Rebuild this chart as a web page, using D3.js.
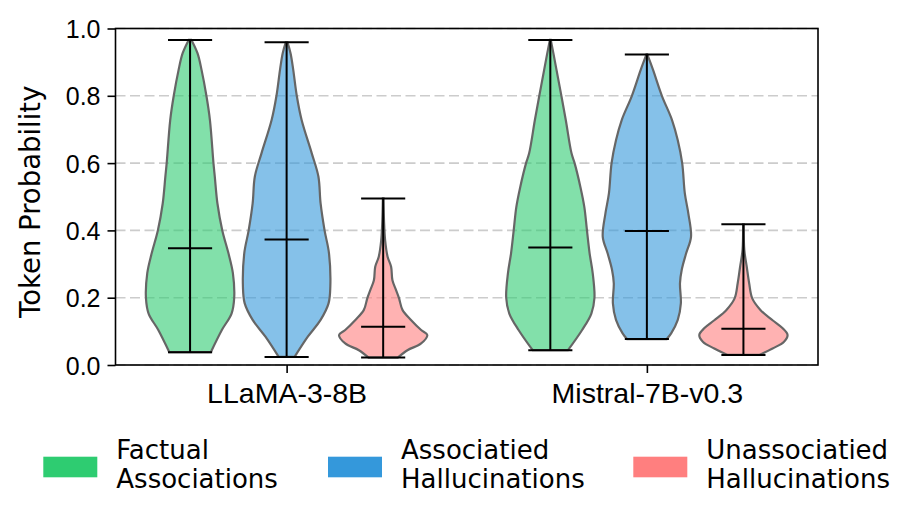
<!DOCTYPE html>
<html>
<head>
<meta charset="utf-8">
<script src="https://cdn.jsdelivr.net/npm/d3@7"></script>
<style>
  body { margin: 0; background: #fff; }
  svg { font-family: "DejaVu Sans", sans-serif; }
</style>
</head>
<body>
<div id="chart"></div>
<script>
// chart values

const models = ["LLaMA-3-8B", "Mistral-7B-v0.3"];
const groups = ["Factual Associations", "Associatied Hallucinations", "Unassociatied Hallucinations"];
const legendLines = [["Factual", "Associations"], ["Associatied", "Hallucinations"], ["Unassociatied", "Hallucinations"]];
const colors = ["#2ecc71", "#3498db", "#ff7f7f"];
const yTicks = [0.0, 0.2, 0.4, 0.6, 0.8, 1.0];

// min / mean / max per model, per group
const llamaMins = [0.038, 0.024, 0.022];
const llamaMeans = [0.347, 0.373, 0.114];
const llamaMaxs = [0.966, 0.959, 0.495];
const mistralMins = [0.044, 0.077, 0.030];
const mistralMeans = [0.349, 0.398, 0.108];
const mistralMaxs = [0.966, 0.923, 0.418];

// density profiles [value, relative density]
const llamaFactual = [[0.038, 0.47], [0.104, 0.72], [0.153, 0.94], [0.200, 1.0], [0.273, 0.97], [0.332, 0.87],
  [0.400, 0.73], [0.480, 0.62], [0.560, 0.56], [0.600, 0.53], [0.728, 0.45], [0.800, 0.37], [0.877, 0.26],
  [0.926, 0.17], [0.966, 0.03]];
const llamaAssoc = [[0.024, 0.18], [0.084, 0.48], [0.134, 0.77], [0.183, 0.95], [0.233, 0.99], [0.332, 0.96],
  [0.400, 0.86], [0.480, 0.77], [0.560, 0.72], [0.629, 0.57], [0.728, 0.34], [0.800, 0.23], [0.877, 0.15],
  [0.926, 0.09], [0.959, 0.02]];
const llamaUnassoc = [[0.022, 0.33], [0.044, 0.55], [0.064, 0.86], [0.089, 1.0], [0.104, 0.86], [0.134, 0.63],
  [0.163, 0.44], [0.198, 0.36], [0.223, 0.29], [0.252, 0.21], [0.292, 0.18], [0.322, 0.10], [0.370, 0.045],
  [0.426, 0.02], [0.495, 0.007]];
const mistralFactual = [[0.044, 0.40], [0.104, 0.72], [0.153, 0.93], [0.200, 1.0], [0.273, 0.96], [0.332, 0.89],
  [0.400, 0.83], [0.470, 0.77], [0.530, 0.68], [0.600, 0.55], [0.629, 0.48], [0.728, 0.35], [0.800, 0.25],
  [0.877, 0.14], [0.926, 0.07], [0.966, 0.01]];
const mistralAssoc = [[0.077, 0.45], [0.094, 0.55], [0.134, 0.70], [0.183, 0.77], [0.243, 0.75], [0.283, 0.79],
  [0.332, 0.89], [0.381, 1.0], [0.450, 0.94], [0.510, 0.86], [0.600, 0.80], [0.668, 0.70], [0.728, 0.57],
  [0.800, 0.34], [0.877, 0.14], [0.923, 0.01]];
const mistralUnassoc = [[0.030, 0.36], [0.049, 0.66], [0.069, 0.92], [0.089, 1.0], [0.109, 0.89], [0.133, 0.66],
  [0.163, 0.39], [0.198, 0.20], [0.243, 0.13], [0.292, 0.075], [0.342, 0.02], [0.418, 0.007]];

const violins = [
  { model: 0, group: 0, profile: llamaFactual, min: llamaMins[0], mean: llamaMeans[0], max: llamaMaxs[0] },
  { model: 0, group: 1, profile: llamaAssoc, min: llamaMins[1], mean: llamaMeans[1], max: llamaMaxs[1] },
  { model: 0, group: 2, profile: llamaUnassoc, min: llamaMins[2], mean: llamaMeans[2], max: llamaMaxs[2] },
  { model: 1, group: 0, profile: mistralFactual, min: mistralMins[0], mean: mistralMeans[0], max: mistralMaxs[0] },
  { model: 1, group: 1, profile: mistralAssoc, min: mistralMins[1], mean: mistralMeans[1], max: mistralMaxs[1] },
  { model: 1, group: 2, profile: mistralUnassoc, min: mistralMins[2], mean: mistralMeans[2], max: mistralMaxs[2] }
];

const W = 918, H = 522;
const plotL = 115.5, plotR = 818, plotT = 28.5, plotB = 365;
const offset = 0.268;     // spacing of violins inside a group
const vWidth = 0.245;     // full violin width, x units

const svg = d3.select("#chart")
  .append("svg")
  .attr("width", W)
  .attr("height", H);

const x = d3.scaleLinear()
  .domain([-0.475, 1.475])
  .range([plotL, plotR]);

const y = d3.scaleLinear()
  .domain([0, 1])
  .range([plotB, plotT]);

const pos = d => d.model + (d.group - 1) * offset;
const half = x(vWidth / 2) - x(0);
const cap = x(vWidth / 4) - x(0);

// grid
svg.append("g")
  .selectAll("line")
  .data(yTicks)
  .join("line")
  .attr("x1", plotL)
  .attr("x2", plotR)
  .attr("y1", d => y(d))
  .attr("y2", d => y(d))
  .attr("stroke", "#cccccc")
  .attr("stroke-width", 1.6)
  .attr("stroke-dasharray", "10,4.5");

// violins
const area = d3.area()
  .curve(d3.curveCatmullRom)
  .y(p => y(p[0]));

const vg = svg.append("g")
  .selectAll("g")
  .data(violins)
  .join("g");

vg.append("path")
  .attr("d", d => {
    const cx = x(pos(d));
    return area.x0(p => cx - p[1] * half).x1(p => cx + p[1] * half)(d.profile);
  })
  .attr("fill", d => colors[d.group])
  .attr("fill-opacity", 0.6)
  .attr("stroke", "#666666")
  .attr("stroke-width", 2.2);

// vertical bar
vg.append("line")
  .attr("x1", d => x(pos(d)))
  .attr("x2", d => x(pos(d)))
  .attr("y1", d => y(d.min))
  .attr("y2", d => y(d.max))
  .attr("stroke", "black")
  .attr("stroke-width", 2);

// min / mean / max caps
["min", "mean", "max"].forEach(k => {
  vg.append("line")
    .attr("x1", d => x(pos(d)) - cap)
    .attr("x2", d => x(pos(d)) + cap)
    .attr("y1", d => y(d[k]))
    .attr("y2", d => y(d[k]))
    .attr("stroke", "black")
    .attr("stroke-width", 2);
});

// axes
const yAxis = svg.append("g")
  .attr("transform", `translate(${plotL},0)`)
  .call(d3.axisLeft(y).tickValues(yTicks).tickFormat(d3.format(".1f")).tickSize(8).tickPadding(7));
yAxis.select(".domain").remove();
yAxis.selectAll("line").attr("stroke", "black").attr("stroke-width", 1.6);
yAxis.selectAll("text").style("font-size", "25px").attr("fill", "black").attr("dy", "0.36em");

const xAxis = svg.append("g")
  .attr("transform", `translate(0,${plotB})`)
  .call(d3.axisBottom(x).tickValues([0, 1]).tickFormat(i => models[i]).tickSize(8).tickPadding(10));
xAxis.select(".domain").remove();
xAxis.selectAll("line").attr("stroke", "black").attr("stroke-width", 1.6);
xAxis.selectAll("text").style("font-size", "28.5px").attr("fill", "black");

// frame
svg.append("rect")
  .attr("x", plotL)
  .attr("y", plotT)
  .attr("width", plotR - plotL)
  .attr("height", plotB - plotT)
  .attr("fill", "none")
  .attr("stroke", "black")
  .attr("stroke-width", 1.6);

// y label
svg.append("text")
  .attr("transform", `translate(40,${(plotT + plotB) / 2 + 5}) rotate(-90)`)
  .attr("text-anchor", "middle")
  .style("font-size", "27.5px")
  .text("Token Probability");

// legend
const legendX = [43.3, 328, 633.3];
const lg = svg.append("g")
  .selectAll("g")
  .data(groups)
  .join("g")
  .attr("transform", (d, i) => `translate(${legendX[i]},456.7)`);

lg.append("rect")
  .attr("width", 54)
  .attr("height", 20.6)
  .attr("fill", (d, i) => colors[i]);

lg.append("text")
  .attr("x", 73)
  .attr("y", 2.6)
  .style("font-size", "26px")
  .selectAll("tspan")
  .data((d, i) => legendLines[i])
  .join("tspan")
  .attr("x", 73)
  .attr("dy", (d, j) => j === 0 ? 0 : 28.4)
  .text(d => d);
</script>
</body>
</html>
